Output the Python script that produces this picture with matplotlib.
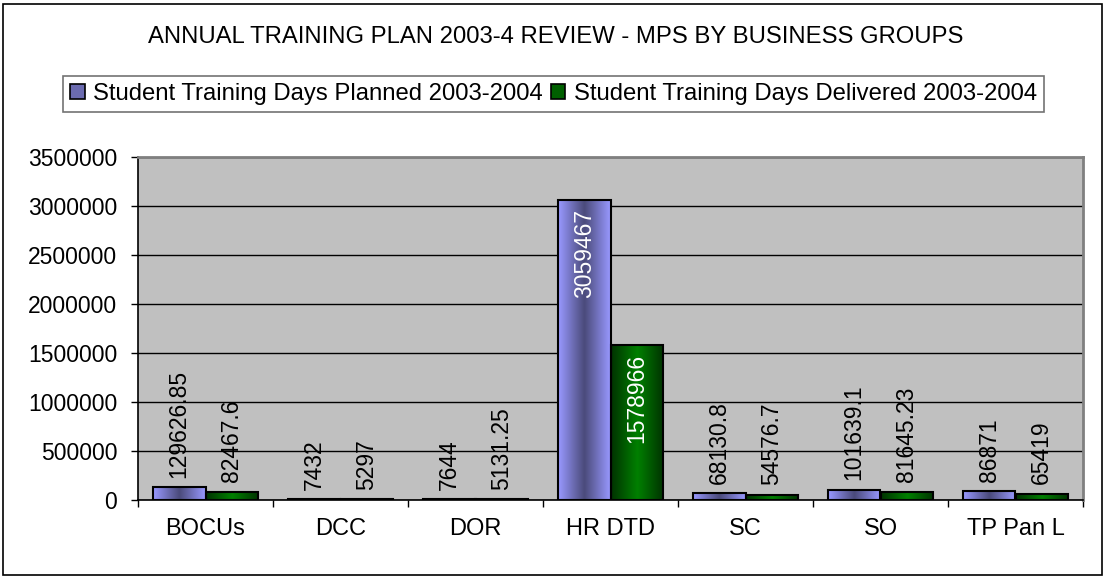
import numpy as np
import matplotlib
matplotlib.use("Agg")
from matplotlib import pyplot as plt
from matplotlib.colors import LinearSegmentedColormap
from matplotlib.patches import Rectangle, Patch

categories = ['BOCUs', 'DCC', 'DOR', 'HR DTD', 'SC', 'SO', 'TP Pan L']
planned = [129626.85, 7432, 7644, 3059467, 68130.8, 101639.1, 86871]
delivered = [82467.6, 5297, 5131.25, 1578966, 54576.7, 81645.23, 65419]
series_names = ['Student Training Days Planned 2003-2004',
                'Student Training Days Delivered 2003-2004']
title = 'ANNUAL TRAINING PLAN 2003-4 REVIEW - MPS BY BUSINESS GROUPS'
yticks = [0, 500000, 1000000, 1500000, 2000000, 2500000, 3000000, 3500000]

plt.rcParams['font.family'] = ['Liberation Sans', 'DejaVu Sans']
FS = 16.5
FS_BIG = 17.2

fig = plt.figure(figsize=(11.07, 5.79), dpi=100)
ax = fig.add_axes([138 / 1107, 1 - 500 / 579, (1083 - 138) / 1107, (500 - 157) / 579])
ax.set_facecolor('#C0C0C0')

# outer chart border
fig.patches.append(Rectangle((3 / 1107, 4 / 579), 1099 / 1107, 571 / 579,
                             transform=fig.transFigure, fill=False,
                             edgecolor='black', linewidth=1.2))

# gradient colour maps: light edges / dark centre (blue), dark edges / bright centre (green)
cmap_p = LinearSegmentedColormap.from_list('p', ['#9999FF', '#4A4A7A', '#9999FF'])
cmap_d = LinearSegmentedColormap.from_list('d', ['#003300', '#008000', '#003300'])

x = np.arange(len(categories))
w = 0.39
bars_p = ax.bar(x - w / 2, planned, w, facecolor='none', edgecolor='black', linewidth=1.5, zorder=4)
bars_d = ax.bar(x + w / 2, delivered, w, facecolor='none', edgecolor='black', linewidth=1.5, zorder=4)

grad = np.linspace(0, 1, 64).reshape(1, -1)
for bars, cmap in ((bars_p, cmap_p), (bars_d, cmap_d)):
    for b in bars:
        x0, h, bw = b.get_x(), b.get_height(), b.get_width()
        ax.imshow(grad, cmap=cmap, extent=[x0, x0 + bw, 0, h], aspect='auto',
                  interpolation='bicubic', zorder=3)

for bars, vals in ((bars_p, planned), (bars_d, delivered)):
    for b, v in zip(bars, vals):
        txt = np.format_float_positional(float(v), trim='-')
        cx = b.get_x() + b.get_width() / 2
        if v > 1000000:
            ax.annotate(txt, (cx, v), xytext=(0, -6), textcoords='offset points',
                        rotation=90, ha='center', va='top', color='white', fontsize=FS, zorder=5)
        else:
            ax.annotate(txt, (cx, v), xytext=(0, 7), textcoords='offset points',
                        rotation=90, ha='center', va='bottom', color='black', fontsize=FS, zorder=5)

ax.set_xlim(-0.5, len(categories) - 0.5)
ax.set_ylim(0, 3500000)
ax.set_yticks(yticks)
ax.set_yticklabels([str(t) for t in yticks])
ax.yaxis.grid(True, color='black', linewidth=1)
ax.set_axisbelow(True)

ax.set_xticks(x)
ax.set_xticklabels(categories)
ax.set_xticks(np.arange(len(categories) + 1) - 0.5, minor=True)
ax.tick_params(axis='x', which='major', length=0, pad=13, labelsize=17)
ax.tick_params(axis='x', which='minor', length=5, width=1, direction='out')
ax.tick_params(axis='y', length=5, width=1, direction='out', pad=10, labelsize=FS)

for s in ('top', 'right'):
    ax.spines[s].set_color('#808080')
    ax.spines[s].set_linewidth(2)
ax.spines['left'].set_color('black')
ax.spines['bottom'].set_color('black')
ax.spines['left'].set_linewidth(1.2)
ax.spines['bottom'].set_linewidth(1.2)

fig.text(556 / 1107, 1 - 37 / 579, title, ha='center', va='center', fontsize=FS_BIG)

handles = [Patch(facecolor='#6B6BB0', edgecolor='black', linewidth=1.2),
           Patch(facecolor='#006000', edgecolor='black', linewidth=1.2)]
leg = fig.legend(handles, series_names, loc='center', ncol=2,
                 bbox_to_anchor=((62 + 1045) / 2 / 1107, 1 - 94 / 579),
                 fontsize=FS_BIG, frameon=True, fancybox=False, edgecolor='#505050',
                 handlelength=0.6, handleheight=0.6, handletextpad=0.35,
                 columnspacing=0.35, borderpad=0.3, borderaxespad=0)
leg.get_frame().set_linewidth(1.2)

fig.savefig('out.png', dpi=100)
